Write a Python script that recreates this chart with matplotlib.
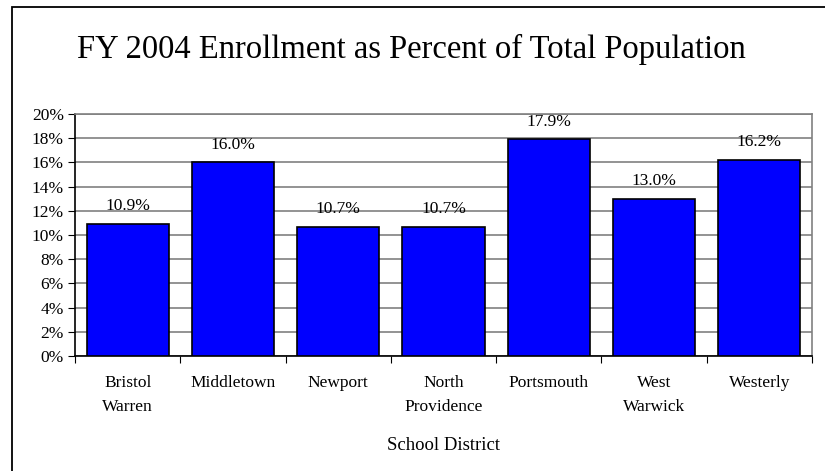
import numpy as np
import matplotlib.pyplot as plt
from matplotlib.patches import Rectangle
from matplotlib.ticker import MultipleLocator, PercentFormatter

# Enrollment share by school district (FY 2004)
districts = ['Bristol\nWarren', 'Middletown', 'Newport', 'North\nProvidence',
             'Portsmouth', 'West\nWarwick', 'Westerly']
pct = [10.9, 16.0, 10.7, 10.7, 17.9, 13.0, 16.2]

plt.rcParams['font.family'] = ['Liberation Serif', 'DejaVu Serif']

W, H = 825, 471
fig = plt.figure(figsize=(W / 100, H / 100), dpi=100)
ax = fig.add_axes([75 / W, 1 - 356 / H, (812 - 75) / W, (356 - 114) / H])

x = np.arange(len(pct))
bars = ax.bar(x, pct, width=0.78, color='#0000FF', edgecolor='black',
              linewidth=1.2, zorder=3)

for xi, v in zip(x, pct):
    ax.annotate(f'{v:.1f}%', (xi, v), xytext=(0, 7), textcoords='offset points',
                ha='center', va='bottom', fontsize=12.5, zorder=4)

ax.set_xlim(-0.5, len(pct) - 0.5)
ax.set_ylim(0, 20)
ax.yaxis.set_major_locator(MultipleLocator(2))
ax.yaxis.set_major_formatter(PercentFormatter(decimals=0))
ax.yaxis.grid(True, color='#808080', linewidth=1.2, zorder=0)

# category ticks sit on boundaries, labels centred under bars
ax.set_xticks(np.arange(len(pct) + 1) - 0.5)
ax.set_xticklabels([])
ax.set_xticks(x, minor=True)
ax.set_xticklabels(districts, minor=True, fontsize=12.5, linespacing=1.6)
ax.tick_params(axis='x', which='minor', length=0, pad=14)
ax.tick_params(axis='x', which='major', length=5, direction='out', color='black')
ax.tick_params(axis='y', length=5, direction='out', labelsize=12.5, pad=3)

for s in ['top', 'right']:
    ax.spines[s].set_color('#808080')
    ax.spines[s].set_linewidth(1.2)
for s in ['left', 'bottom']:
    ax.spines[s].set_color('black')
    ax.spines[s].set_linewidth(1.2)

ax.set_xlabel('School District', fontsize=13.5, labelpad=16)

fig.text(411 / W, 1 - 49 / H, 'FY 2004 Enrollment as Percent of Total Population',
         ha='center', va='center', fontsize=23.5)

# chart frame (left and top edges visible)
fig.patches.append(Rectangle((12 / W, -0.1), 1.2, 1.1 - 7 / H, transform=fig.transFigure,
                             fill=False, edgecolor='black', linewidth=1.3))

fig.savefig('out.png', dpi=100)
